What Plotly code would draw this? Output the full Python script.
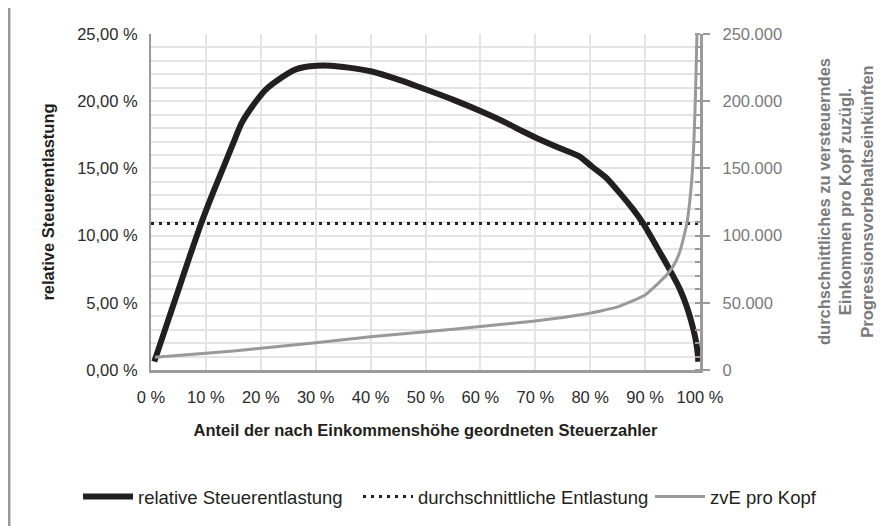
import plotly.graph_objects as go

# ---- data ----
rel_x = [0.6, 2.8, 5.0, 7.0, 9.1, 11.3, 13.5, 15.0, 16.5, 18.9, 21.0, 23.2, 26.2, 28.0, 30.2,
         32.6, 36.0, 40.2, 44.8, 50.2, 55.1, 60.2, 64.8, 67.5, 70.3, 74.5, 78.1, 80.3, 83.0,
         85.4, 87.9, 89.7, 92.1, 94.5, 96.4, 97.6, 98.5, 99.1, 99.5, 99.7]
rel_y = [0.62, 3.3, 5.96, 8.4, 10.87, 13.2, 15.39, 16.9, 18.37, 19.86, 20.9, 21.6, 22.34, 22.55, 22.64,
         22.64, 22.5, 22.21, 21.64, 20.85, 20.1, 19.23, 18.37, 17.8, 17.25, 16.5, 15.88, 15.14, 14.27,
         13.16, 11.91, 10.87, 9.18, 7.45, 5.96, 4.71, 3.48, 2.48, 1.49, 0.62]

avg_x = [0, 100]
avg_y = [10.9, 10.9]

zve_x = [0.7, 10, 20, 30, 40, 50, 60, 70, 75, 78, 80, 82.5, 85, 87.5, 90, 92, 94, 95.5,
         96.4, 97.6, 98.5, 98.9, 99.2, 99.45]
zve_y = [9500, 12400, 16100, 20300, 24700, 28500, 32300, 36500, 39000, 40900, 42300, 44500,
         47000, 51000, 55800, 63000, 71000, 80000, 89000, 109000, 141500, 171000, 208000, 250000]

names = ["relative Steuerentlastung", "durchschnittliche Entlastung", "zvE pro Kopf"]
x_title = "Anteil der nach Einkommenshöhe geordneten Steuerzahler"
y_title = "relative Steuerentlastung"
y2_title = ("durchschnittliches zu versteuerndes<br>Einkommen pro Kopf zuzügl.<br>"
            "Progressionsvorbehaltseinkünften")

FONT = "Liberation Sans, Arial, Helvetica, sans-serif"
GRID = "#e4e4e6"
AXIS = "#9a9a9a"
CLEAR = "rgba(0,0,0,0)"

# the page body has an 8px margin, so everything is shifted 8px up/left
W, H = 894, 526
L, T = 143, 26
PW, PH = 549, 336
R, B = W - L - PW, H - T - PH


def px_x(fx):
    return (fx - L) / PW


def px_y(fy):
    return (T + PH - fy) / PH


fig = go.Figure()
fig.add_trace(go.Scatter(x=rel_x, y=rel_y, name=names[0], mode="lines", legend="legend",
                         line=dict(color="#231f20", width=6, shape="spline", smoothing=0.6)))
fig.add_trace(go.Scatter(x=avg_x, y=avg_y, name=names[1], mode="lines", legend="legend2",
                         line=dict(color="#231f20", width=3, dash="3px,5px")))
fig.add_trace(go.Scatter(x=zve_x, y=zve_y, name=names[2], mode="lines", yaxis="y2",
                         legend="legend3",
                         line=dict(color="#999999", width=3, shape="spline", smoothing=0.5)))

leg_common = dict(orientation="h", yanchor="middle", xanchor="left",
                  font=dict(size=18.5, color="#231f20"), bgcolor="rgba(0,0,0,0)",
                  itemwidth=50)
leg_y = px_y(489)

fig.update_layout(
    width=W, height=H,
    margin=dict(l=L, r=R, t=T, b=B, autoexpand=False),
    paper_bgcolor="white", plot_bgcolor="white",
    separators=",.",
    font=dict(family=FONT, size=16.5, color="#333333"),
    showlegend=True,
    legend=dict(x=px_x(70), y=leg_y, **leg_common),
    legend2=dict(x=px_x(350), y=leg_y, **leg_common),
    legend3=dict(x=px_x(642), y=leg_y, **leg_common),
    xaxis=dict(range=[0, 100], dtick=10, ticksuffix=" %", showgrid=True, gridcolor=GRID,
               gridwidth=2, showline=True, linecolor=AXIS, linewidth=3,
               ticks="outside", ticklen=10, tickcolor=CLEAR,
               zeroline=False, tickfont=dict(size=16.5, color="#2b2b2b"),
               title=dict(text="<b>" + x_title + "</b>", standoff=20,
                          font=dict(size=16.5, color="#231f20"))),
    yaxis=dict(range=[0, 25], dtick=5, tickformat=".2f", ticksuffix=" %", showgrid=True,
               gridcolor=GRID, gridwidth=2, showline=True, linecolor=AXIS, linewidth=2,
               ticks="outside", ticklen=8, tickcolor=CLEAR,
               zeroline=False, tickfont=dict(size=16.5, color="#2b2b2b"),
               minor=dict(dtick=1, showgrid=True, gridcolor=GRID, gridwidth=2),
               title=dict(text="<b>" + y_title + "</b>", standoff=18,
                          font=dict(size=16.5, color="#231f20"))),
    yaxis2=dict(range=[0, 250000], dtick=50000, tickformat=",d", overlaying="y", side="right",
                showgrid=False, showline=True, linecolor=AXIS, linewidth=3, zeroline=False,
                ticks="outside", ticklen=7, tickwidth=2, tickcolor=AXIS,
                tickprefix="\u00a0\u00a0",
                minor=dict(dtick=10000, ticks="inside", ticklen=5, tickwidth=2, tickcolor=AXIS),
                tickfont=dict(size=16.5, color="#7a7a7a")),
)

# title of the right axis (three lines, reading bottom to top)
fig.add_annotation(text="<b>" + y2_title + "</b>", xref="paper", yref="paper",
                   x=px_x(837), y=0.5, xanchor="center", yanchor="middle",
                   textangle=-90, showarrow=False, align="center",
                   font=dict(size=16.5, color="#7a7a7a", family=FONT))

# decorative grey bar at the left edge of the figure
fig.add_shape(type="rect", xref="paper", yref="paper",
              x0=px_x(0), x1=px_x(2.5), y0=px_y(530), y1=px_y(-4),
              fillcolor="#999999", line=dict(width=0), layer="above")

fig.write_html("out.html")
